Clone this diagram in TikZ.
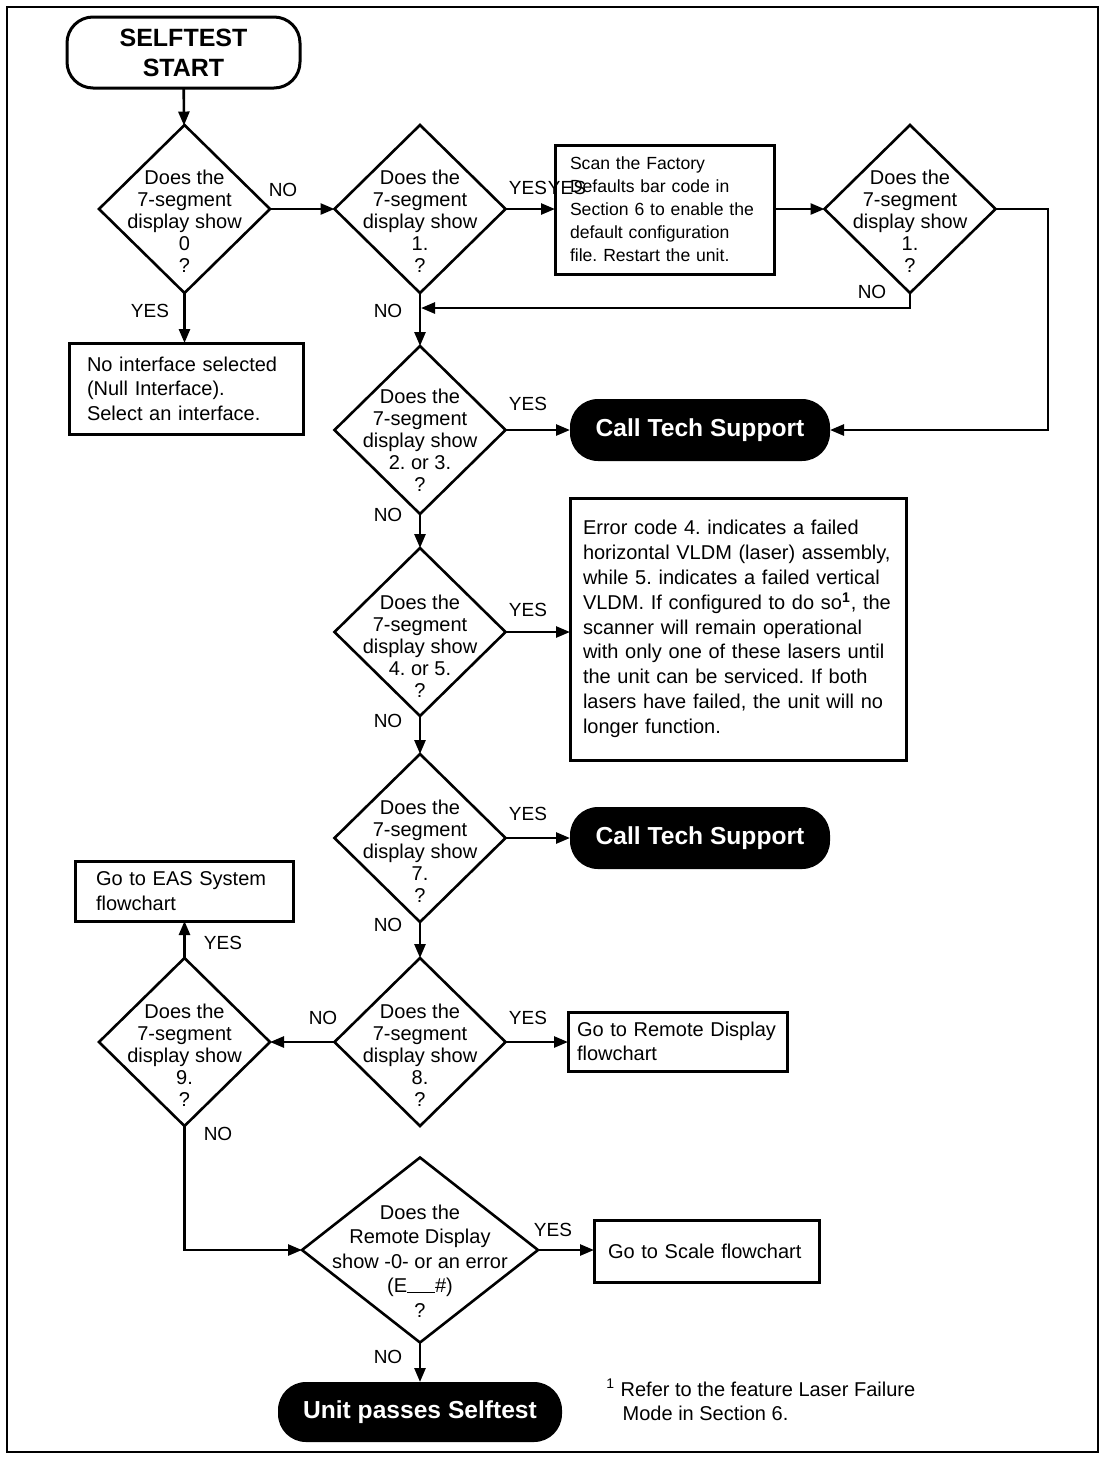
\documentclass[tikz,border=0pt]{standalone}
\usepackage{fontspec}
\setmainfont{Liberation Sans}
\usetikzlibrary{shapes.geometric,arrows.meta}
\frenchspacing
\begin{document}
\frenchspacing
\begin{tikzpicture}[x=0.5pt,y=-0.5pt, line width=1.3pt,
  >={Triangle[length=7pt,width=5.5pt]},
  dia/.style={diamond, draw, minimum width=85.5pt, minimum height=84pt, inner sep=0pt, outer sep=0pt},
  dtext/.style={align=center, font=\fontsize{10}{11}\selectfont, inner sep=0pt},
  box/.style={rectangle, draw, line width=1.5pt, align=left, outer sep=0pt, inner ysep=0pt, font=\fontsize{10}{12.3}\selectfont},
  term/.style={rectangle, rounded corners=14pt, fill=black, text=white, font=\bfseries\fontsize{12.3}{14}\selectfont, minimum width=130pt, minimum height=31pt, outer sep=0pt},
  lbl/.style={font=\fontsize{9.5}{11}\selectfont, inner sep=0pt},
  flow/.style={->}]
\useasboundingbox (0,0) rectangle (1103,1457);
\draw[line width=1pt] (7,7) rectangle (1098,1452);

% start
\node[draw, rectangle, rounded corners=13pt, line width=1.5pt, minimum width=116.5pt, minimum height=35.5pt, outer sep=0pt, align=center, font=\bfseries\fontsize{12.5}{15}\selectfont] (start) at (183.5,52.5) {SELFTEST\\START};

% diamonds
\node[dia] (d0) at (184.5,209) {};
\node[dtext] (d0t) at ([yshift=-6pt]d0.center) {Does the\\7-segment\\display show\\0\\?};
\node[dia] (d1) at (420,209) {};
\node[dtext] (d1t) at ([yshift=-6pt]d1.center) {Does the\\7-segment\\display show\\1.\\?};
\node[dia] (d1b) at (910,209) {};
\node[dtext] (d1bt) at ([yshift=-6pt]d1b.center) {Does the\\7-segment\\display show\\1.\\?};
\node[dia] (d23) at (420,430) {};
\node[dtext] (d23t) at ([yshift=-5pt]d23.center) {Does the\\7-segment\\display show\\2. or 3.\\?};
\node[dia] (d45) at (420,632) {};
\node[dtext] (d45t) at ([yshift=-7pt]d45.center) {Does the\\7-segment\\display show\\4. or 5.\\?};
\node[dia] (d7) at (420,838) {};
\node[dtext] (d7t) at ([yshift=-6.5pt]d7.center) {Does the\\7-segment\\display show\\7.\\?};
\node[dia] (d8) at (420,1042) {};
\node[dtext] (d8t) at ([yshift=-6.5pt]d8.center) {Does the\\7-segment\\display show\\8.\\?};
\node[dia] (d9) at (184.5,1042) {};
\node[dtext] (d9t) at ([yshift=-6.5pt]d9.center) {Does the\\7-segment\\display show\\9.\\?};
\node[dia, minimum width=118pt, minimum height=92.5pt] (drem) at (420,1250) {};
\node[dtext, font=\fontsize{10}{12.25}\selectfont] (dremt) at ([yshift=-5.5pt]drem.center) {Does the\\Remote Display\\show -0- or an error\\(E\rule{14pt}{0.5pt}\#)\\?};

% boxes
\node[box, text width=94.5pt, inner xsep=7.5pt, minimum height=64.5pt, font=\fontsize{8.8}{11.5}\selectfont] (scan) at (664.5,209.5) {Scan the Factory\\Defaults bar code in\\Section 6 to enable the\\default configuration\\file. Restart the unit.};
\node[box, text width=99pt, inner xsep=9pt, minimum height=45.5pt] (null) at (186,388.5) {No interface selected\\(Null Interface).\\Select an interface.};
\node[box, text width=155pt, inner xsep=6.5pt, minimum height=131pt, font=\fontsize{10}{12.4}\selectfont] (err) at (738,629) {Error code 4. indicates a failed\\horizontal VLDM (laser) assembly,\\while 5. indicates a failed vertical\\VLDM. If configured to do so\textsuperscript{\bfseries 1}, the\\scanner will remain operational\\with only one of these lasers until\\the unit can be serviced. If both\\lasers have failed, the unit will no\\longer function.};
\node[box, text width=100.5pt, inner xsep=4.5pt, minimum height=29.5pt] (rd) at (677.5,1041.5) {Go to Remote Display\\flowchart};
\node[box, text width=88pt, inner xsep=10.5pt, minimum height=30pt] (eas) at (184,891) {Go to EAS System\\flowchart};
\node[box, text width=98.5pt, inner xsep=7pt, minimum height=31pt] (scale) at (706.5,1251) {Go to Scale flowchart};

% terminals
\node[term] (cts1) at (700,430) {Call Tech Support};
\node[term] (cts2) at (700,838) {Call Tech Support};
\node[term, minimum width=142pt, minimum height=30pt] (ups) at (420,1412) {Unit passes Selftest};

% footnote
\node[anchor=west, align=left, inner sep=0pt, font=\fontsize{10}{12.2}\selectfont] (fn) at (605,1400) {\textsuperscript{1} Refer to the feature Laser Failure\\\hspace*{8.2pt}Mode in Section 6.};

% connectors
\draw[flow] (start) -- (d0);
\draw[flow] (d0.east) -- (d1.west);
\draw[flow] (d0.south) -- (d0.south |- null.north);
\draw[flow] (d1.east) -- (d1.east -| scan.west);
\draw[flow] (scan.east |- d1b.west) -- (d1b.west);
\coordinate (c1) at (1048,209);
\draw[flow] (d1b.east) -- (c1) |- (cts1.east);
\coordinate (c2) at (910,308);
\coordinate (c3) at (421,308);
\draw[flow] (d1b.south) -- (c2) -- (c3);
\draw[flow] (d1.south) -- (d23.north);
\draw[flow] (d23.east) -- (cts1.west);
\draw[flow] (d23.south) -- (d45.north);
\draw[flow] (d45.east) -- (d45.east -| err.west);
\draw[flow] (d45.south) -- (d7.north);
\draw[flow] (d7.east) -- (cts2.west);
\draw[flow] (d7.south) -- (d8.north);
\draw[flow] (d8.east) -- (d8.east -| rd.west);
\draw[flow] (d8.west) -- (d9.east);
\draw[flow] (d9.north) -- (d9.north |- eas.south);
\draw[flow] (d9.south) |- (drem.west);
\draw[flow] (drem.east) -- (drem.east -| scale.west);
\draw[flow] (drem.south) -- (ups.north);

% labels
\node[lbl] (l1) at (283,190) {NO};
\node[lbl] (l2) at (150,311) {YES};
\node[lbl] (l3) at (528,188) {YES};
\node[lbl] (l3b) at (567,188) {YES};
\node[lbl] (l4) at (872,292) {NO};
\node[lbl] (l5) at (388,311) {NO};
\node[lbl] (l6) at (528,404) {YES};
\node[lbl] (l7) at (388,515) {NO};
\node[lbl] (l8) at (528,610) {YES};
\node[lbl] (l9) at (388,721) {NO};
\node[lbl] (l10) at (528,814) {YES};
\node[lbl] (l11) at (388,925) {NO};
\node[lbl] (l12) at (528,1018) {YES};
\node[lbl] (l13) at (323,1018) {NO};
\node[lbl] (l14) at (223,943) {YES};
\node[lbl] (l15) at (218,1134) {NO};
\node[lbl] (l16) at (553,1230) {YES};
\node[lbl] (l17) at (388,1357) {NO};
\end{tikzpicture}
\end{document}
